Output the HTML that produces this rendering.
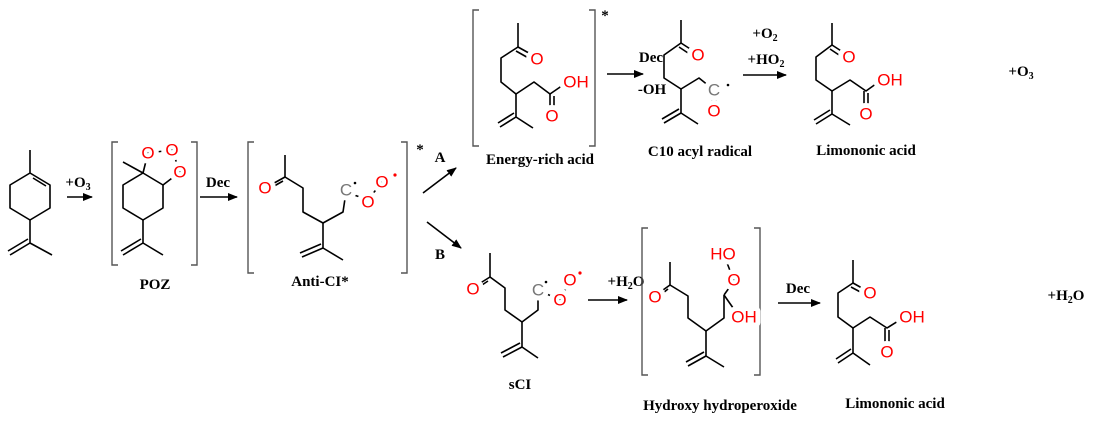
<!DOCTYPE html>
<html><head><meta charset="utf-8"><style>
html,body{margin:0;padding:0;background:#fff;}
svg{display:block}
.b{stroke:#000;stroke-width:1.6;fill:none;stroke-linejoin:round}
.br{stroke:#555;stroke-width:1.4;fill:none}
.a{font-family:"Liberation Sans",sans-serif;font-size:17px;fill:#f00;text-anchor:middle;dominant-baseline:central;stroke:#fff;stroke-width:10;stroke-linejoin:round;paint-order:stroke}
.g{fill:#777}
.l{font-family:"Liberation Serif",serif;font-weight:bold;font-size:15px;fill:#000;text-anchor:middle;dominant-baseline:central}
.s{font-size:10px}
</style></head><body>
<svg width="1094" height="424" viewBox="0 0 1094 424">
<defs><marker id="ar" markerWidth="10" markerHeight="8" refX="9" refY="4" orient="auto" markerUnits="userSpaceOnUse"><path d="M0,0 L10,4 L0,8 Z" fill="#000"/></marker></defs>

<!-- Limonene -->
<polyline class="b" points="30,150 30,173 50,185 50,208 30,220 10,208 10,185 30,173"/>
<line class="b" x1="33" y1="178" x2="46" y2="186"/>
<polyline class="b" points="30,220 30,243 52,255"/>
<line class="b" x1="30" y1="243" x2="10" y2="255"/><line class="b" x1="28" y1="239" x2="8" y2="251"/>
<text class="l" x="78" y="183">+O<tspan class="s" dy="4">3</tspan></text>
<line class="b" x1="67" y1="197" x2="92" y2="197" marker-end="url(#ar)"/>

<!-- POZ -->
<polyline class="br" points="118,142 112,142 112,265 118,265"/>
<polyline class="br" points="191,142 197,142 197,265 191,265"/>
<polyline class="b" points="143,173 163,185 163,208 143,220 123,208 123,185 143,173"/>
<line class="b" x1="143" y1="173" x2="123" y2="162"/>
<polyline class="b" points="143,173 148,153 172,150 180,172 163,185"/>
<text class="a" x="148" y="153">O</text><text class="a" x="172" y="150">O</text><text class="a" x="180" y="172">O</text>
<polyline class="b" points="143,220 143,243 163,255"/>
<line class="b" x1="143" y1="243" x2="123" y2="255"/><line class="b" x1="141" y1="239" x2="121" y2="251"/>
<text class="l" x="155" y="285">POZ</text>
<text class="l" x="218" y="183">Dec</text>
<line class="b" x1="200" y1="197" x2="237" y2="197" marker-end="url(#ar)"/>

<!-- Anti-CI -->
<polyline class="br" points="254,142 248,142 248,273 254,273"/>
<polyline class="br" points="401,142 407,142 407,273 401,273"/>
<text class="l" x="420" y="150">*</text>
<line class="b" x1="285" y1="155" x2="285" y2="177"/>
<line class="b" x1="285" y1="177" x2="267" y2="187"/><line class="b" x1="283" y1="181" x2="269" y2="189"/>
<polyline class="b" points="285,177 303,188 303,212 323,223 343,212 346,192"/>
<line class="b" x1="346" y1="192" x2="368" y2="200"/><line class="b" x1="368" y1="200" x2="382" y2="182"/>
<text class="a g" x="346" y="190">C</text><text class="a" x="368" y="202">O</text><text class="a" x="382" y="182">O</text>
<text class="a" x="265" y="188">O</text>
<circle cx="355" cy="183" r="1.3" fill="#000"/><circle cx="395" cy="175" r="1.6" fill="#f00"/>
<polyline class="b" points="323,223 323,248 343,260"/>
<line class="b" x1="323" y1="248" x2="302" y2="257"/><line class="b" x1="321" y1="244" x2="300" y2="253"/>
<text class="l" x="320" y="282">Anti-CI*</text>

<!-- A/B arrows -->
<line class="b" x1="423" y1="193" x2="456" y2="168" marker-end="url(#ar)"/>
<line class="b" x1="427" y1="222" x2="461" y2="248" marker-end="url(#ar)"/>
<text class="l" x="440" y="158">A</text><text class="l" x="440" y="255">B</text>

<!-- Energy-rich acid -->
<polyline class="br" points="479,10 473,10 473,146 479,146"/>
<polyline class="br" points="589,10 595,10 595,146 589,146"/>
<text class="l" x="605" y="16">*</text>
<line class="b" x1="518" y1="23" x2="518" y2="47"/>
<line class="b" x1="518" y1="47" x2="536" y2="57"/><line class="b" x1="516" y1="51" x2="532" y2="60"/>
<polyline class="b" points="518,47 501,58 501,82 516,94 534,82 550,94 566,83"/>
<line class="b" x1="550" y1="94" x2="550" y2="113"/><line class="b" x1="554" y1="96" x2="554" y2="113"/>
<text class="a" x="537" y="59">O</text><text class="a" x="576" y="82">OH</text><text class="a" x="552" y="116">O</text>
<polyline class="b" points="516,94 516,117 533,128"/>
<line class="b" x1="516" y1="117" x2="500" y2="127"/><line class="b" x1="514" y1="113" x2="498" y2="123"/>
<text class="l" x="540" y="160">Energy-rich acid</text>
<text class="l" x="651" y="58">Dec</text><text class="l" x="652" y="90">-OH</text>
<line class="b" x1="607" y1="74" x2="643" y2="74" marker-end="url(#ar)"/>

<!-- C10 acyl radical -->
<line class="b" x1="681" y1="20" x2="681" y2="43"/>
<line class="b" x1="681" y1="43" x2="698" y2="54"/><line class="b" x1="679" y1="47" x2="694" y2="57"/>
<polyline class="b" points="681,43 664,55 664,78 681,89 699,78 714,90"/>
<line class="b" x1="712" y1="95" x2="712" y2="106"/><line class="b" x1="716" y1="95" x2="716" y2="106"/>
<text class="a" x="698" y="55">O</text><text class="a g" x="714" y="90">C</text><text class="a" x="714" y="111">O</text>
<circle cx="728" cy="85" r="1.3" fill="#000"/>
<polyline class="b" points="681,89 681,113 698,124"/>
<line class="b" x1="681" y1="113" x2="664" y2="123"/><line class="b" x1="679" y1="109" x2="662" y2="119"/>
<text class="l" x="700" y="152">C10 acyl radical</text>
<text class="l" x="765" y="34">+O<tspan class="s" dy="4">2</tspan></text>
<text class="l" x="766" y="60">+HO<tspan class="s" dy="4">2</tspan></text>
<line class="b" x1="743" y1="75" x2="786" y2="75" marker-end="url(#ar)"/>

<!-- Limononic acid top -->
<line class="b" x1="832" y1="23" x2="832" y2="45"/>
<line class="b" x1="832" y1="45" x2="849" y2="56"/><line class="b" x1="830" y1="49" x2="845" y2="59"/>
<polyline class="b" points="832,45 816,57 816,80 832,91 850,80 866,91 880,81"/>
<line class="b" x1="864" y1="91" x2="864" y2="110"/><line class="b" x1="868" y1="93" x2="868" y2="110"/>
<text class="a" x="849" y="57">O</text><text class="a" x="890" y="80">OH</text><text class="a" x="866" y="114">O</text>
<polyline class="b" points="832,91 832,114 850,125"/>
<line class="b" x1="832" y1="114" x2="816" y2="124"/><line class="b" x1="830" y1="110" x2="814" y2="120"/>
<text class="l" x="866" y="151">Limononic acid</text>
<text class="l" x="1021" y="72">+O<tspan class="s" dy="4">3</tspan></text>

<!-- sCI -->
<line class="b" x1="490" y1="253" x2="490" y2="277"/>
<line class="b" x1="490" y1="277" x2="474" y2="287"/><line class="b" x1="488" y1="281" x2="476" y2="289"/>
<polyline class="b" points="490,277 505,288 505,310 522,322 538,310 538,290"/>
<line class="b" x1="538" y1="290" x2="560" y2="300"/><line class="b" x1="560" y1="300" x2="570" y2="281"/>
<text class="a" x="473" y="289">O</text><text class="a g" x="538" y="290">C</text><text class="a" x="560" y="300">O</text><text class="a" x="570" y="280">O</text>
<circle cx="546" cy="282" r="1.3" fill="#000"/><circle cx="580" cy="273" r="1.6" fill="#f00"/>
<polyline class="b" points="522,322 522,347 538,358"/>
<line class="b" x1="522" y1="347" x2="503" y2="357"/><line class="b" x1="520" y1="343" x2="501" y2="353"/>
<text class="l" x="520" y="385">sCI</text>
<text class="l" x="626" y="282">+H<tspan class="s" dy="4">2</tspan><tspan dy="-4">O</tspan></text>
<line class="b" x1="588" y1="300" x2="627" y2="300" marker-end="url(#ar)"/>

<!-- Hydroxy hydroperoxide -->
<polyline class="br" points="648,228 642,228 642,375 648,375"/>
<polyline class="br" points="754,228 760,228 760,375 754,375"/>
<line class="b" x1="670" y1="262" x2="670" y2="285"/>
<line class="b" x1="670" y1="285" x2="656" y2="295"/><line class="b" x1="668" y1="289" x2="658" y2="297"/>
<polyline class="b" points="670,285 688,296 688,318 706,331 724,318 724,295"/>
<line class="b" x1="724" y1="295" x2="734" y2="281"/><line class="b" x1="734" y1="281" x2="724" y2="255"/>
<line class="b" x1="724" y1="295" x2="738" y2="315"/>
<text class="a" x="655" y="297">O</text><text class="a" x="723" y="254">HO</text><text class="a" x="734" y="280">O</text><text class="a" x="744" y="317">OH</text>
<polyline class="b" points="706,331 706,356 724,367"/>
<line class="b" x1="706" y1="356" x2="688" y2="366"/><line class="b" x1="704" y1="352" x2="686" y2="362"/>
<text class="l" x="720" y="406">Hydroxy hydroperoxide</text>
<text class="l" x="798" y="289">Dec</text>
<line class="b" x1="778" y1="303" x2="820" y2="303" marker-end="url(#ar)"/>

<!-- Limononic acid bottom -->
<line class="b" x1="853" y1="260" x2="853" y2="283"/>
<line class="b" x1="853" y1="283" x2="869" y2="292"/><line class="b" x1="851" y1="287" x2="866" y2="295"/>
<polyline class="b" points="853,283 838,293 838,317 853,328 870,317 887,328 903,318"/>
<line class="b" x1="885" y1="328" x2="885" y2="347"/><line class="b" x1="889" y1="330" x2="889" y2="347"/>
<text class="a" x="870" y="293">O</text><text class="a" x="912" y="317">OH</text><text class="a" x="887" y="352">O</text>
<polyline class="b" points="853,328 853,353 870,365"/>
<line class="b" x1="853" y1="353" x2="838" y2="363"/><line class="b" x1="851" y1="349" x2="836" y2="359"/>
<text class="l" x="895" y="404">Limononic acid</text>
<text class="l" x="1066" y="296">+H<tspan class="s" dy="4">2</tspan><tspan dy="-4">O</tspan></text>
</svg>
</body></html>
